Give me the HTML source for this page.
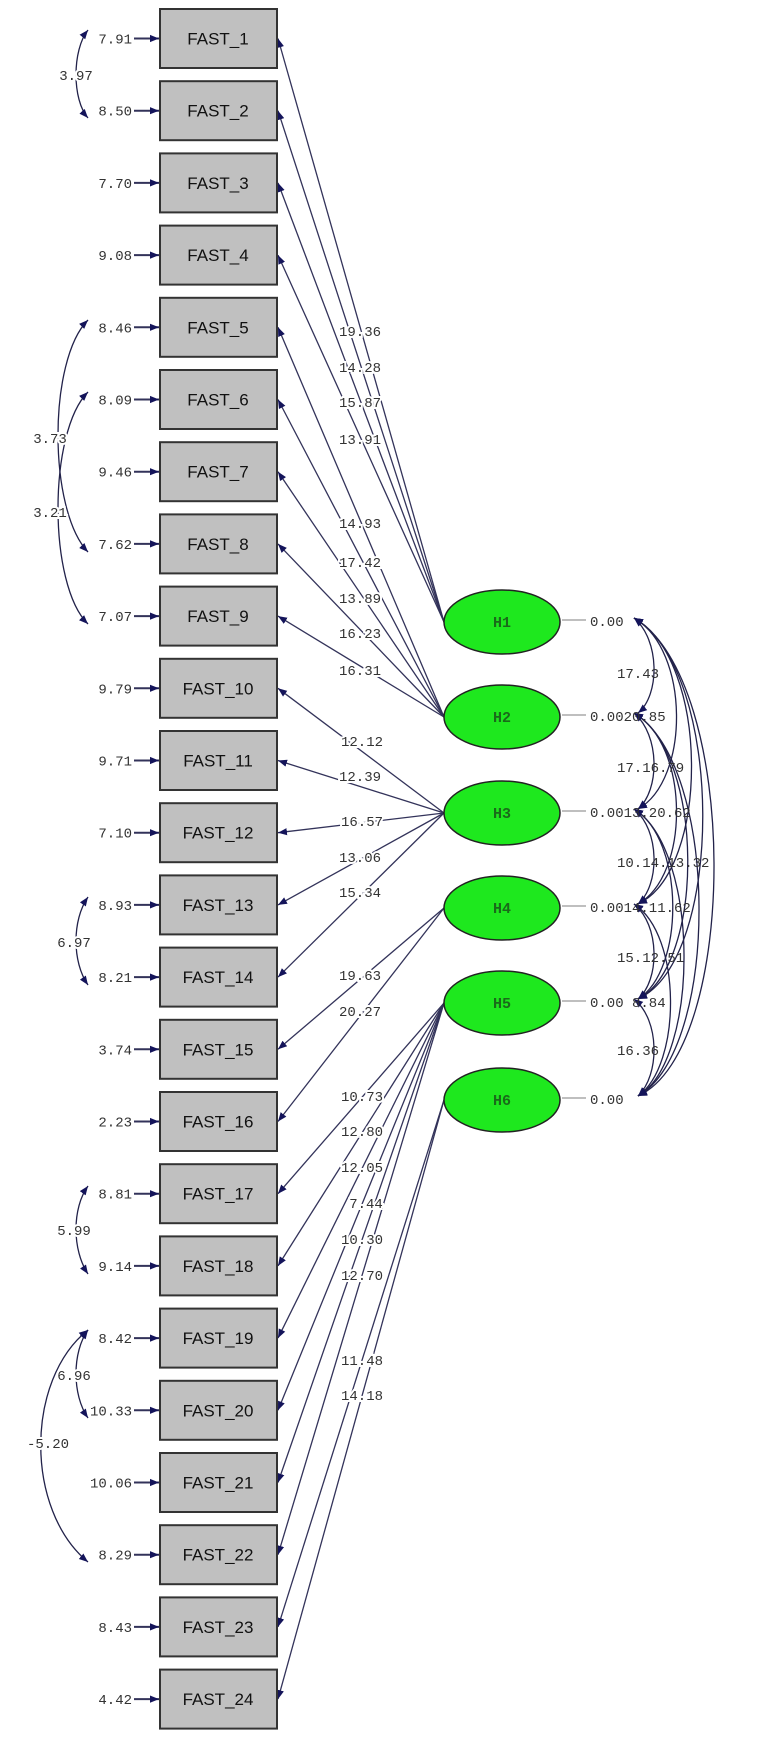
<!DOCTYPE html>
<html><head><meta charset="utf-8"><style>
html,body{margin:0;padding:0;background:#fff;}
svg{display:block}
.bx{fill:#c0c0c0;stroke:#333;stroke-width:2}
.bt{font-family:"Liberation Sans",sans-serif;font-size:17px;fill:#111;text-anchor:middle}
.m{font-family:"Liberation Mono",monospace;font-size:14px;fill:#333}
.lab{font-family:"Liberation Mono",monospace;font-size:14px;fill:#333;text-anchor:middle;paint-order:stroke;stroke:#fff;stroke-width:4px}
.ln{stroke:#33335a;stroke-width:1.3;fill:none}
.cv{stroke:#22224a;stroke-width:1.3;fill:none}
.el{fill:#1ee81e;stroke:#222;stroke-width:1.5}
.et{font-family:"Liberation Mono",monospace;font-size:15px;font-weight:bold;fill:#1a6a1a;text-anchor:middle}
</style></head><body>
<svg width="765" height="1762" viewBox="0 0 765 1762" xmlns="http://www.w3.org/2000/svg">
<defs>
<marker id="a" viewBox="0 0 10 10" refX="10" refY="5" markerWidth="9" markerHeight="9" orient="auto-start-reverse" markerUnits="userSpaceOnUse"><path d="M0,1 L10,5 L0,9 Z" fill="#14145a"/></marker>
</defs>

<!-- factor loading lines -->
<g class="ln" marker-end="url(#a)">
<line x1="444" y1="622" x2="278" y2="38.5"/>
<line x1="444" y1="622" x2="278" y2="110.7"/>
<line x1="444" y1="622" x2="278" y2="182.9"/>
<line x1="444" y1="622" x2="278" y2="255.1"/>
<line x1="444" y1="717" x2="278" y2="327.3"/>
<line x1="444" y1="717" x2="278" y2="399.5"/>
<line x1="444" y1="717" x2="278" y2="471.7"/>
<line x1="444" y1="717" x2="278" y2="543.9"/>
<line x1="444" y1="717" x2="278" y2="616.1"/>
<line x1="444" y1="813" x2="278" y2="688.3"/>
<line x1="444" y1="813" x2="278" y2="760.5"/>
<line x1="444" y1="813" x2="278" y2="832.7"/>
<line x1="444" y1="813" x2="278" y2="904.9"/>
<line x1="444" y1="813" x2="278" y2="977.1"/>
<line x1="444" y1="908" x2="278" y2="1049.3"/>
<line x1="444" y1="908" x2="278" y2="1121.5"/>
<line x1="444" y1="1003" x2="278" y2="1193.7"/>
<line x1="444" y1="1003" x2="278" y2="1265.9"/>
<line x1="444" y1="1003" x2="278" y2="1338.1"/>
<line x1="444" y1="1003" x2="278" y2="1410.3"/>
<line x1="444" y1="1003" x2="278" y2="1482.5"/>
<line x1="444" y1="1003" x2="278" y2="1554.7"/>
<line x1="444" y1="1100" x2="278" y2="1626.9"/>
<line x1="444" y1="1100" x2="278" y2="1699.1"/>
</g>

<!-- loading labels -->
<g>
<text class="lab" x="360" y="336">19.36</text>
<text class="lab" x="360" y="372">14.28</text>
<text class="lab" x="360" y="407">15.87</text>
<text class="lab" x="360" y="444">13.91</text>
<text class="lab" x="360" y="528">14.93</text>
<text class="lab" x="360" y="567">17.42</text>
<text class="lab" x="360" y="603">13.89</text>
<text class="lab" x="360" y="638">16.23</text>
<text class="lab" x="360" y="675">16.31</text>
<text class="lab" x="362" y="746">12.12</text>
<text class="lab" x="360" y="781">12.39</text>
<text class="lab" x="362" y="826">16.57</text>
<text class="lab" x="360" y="862">13.06</text>
<text class="lab" x="360" y="897">15.34</text>
<text class="lab" x="360" y="980">19.63</text>
<text class="lab" x="360" y="1016">20.27</text>
<text class="lab" x="362" y="1101">10.73</text>
<text class="lab" x="362" y="1136">12.80</text>
<text class="lab" x="362" y="1172">12.05</text>
<text class="lab" x="366" y="1208">7.44</text>
<text class="lab" x="362" y="1244">10.30</text>
<text class="lab" x="362" y="1280">12.70</text>
<text class="lab" x="362" y="1365">11.48</text>
<text class="lab" x="362" y="1400">14.18</text>
</g>

<!-- boxes -->
<g>
<rect class="bx" x="160" y="9" width="117" height="59"/><text class="bt" x="218" y="44.5">FAST_1</text>
<rect class="bx" x="160" y="81.2" width="117" height="59"/><text class="bt" x="218" y="116.7">FAST_2</text>
<rect class="bx" x="160" y="153.4" width="117" height="59"/><text class="bt" x="218" y="188.9">FAST_3</text>
<rect class="bx" x="160" y="225.6" width="117" height="59"/><text class="bt" x="218" y="261.1">FAST_4</text>
<rect class="bx" x="160" y="297.8" width="117" height="59"/><text class="bt" x="218" y="333.3">FAST_5</text>
<rect class="bx" x="160" y="370" width="117" height="59"/><text class="bt" x="218" y="405.5">FAST_6</text>
<rect class="bx" x="160" y="442.2" width="117" height="59"/><text class="bt" x="218" y="477.7">FAST_7</text>
<rect class="bx" x="160" y="514.4" width="117" height="59"/><text class="bt" x="218" y="549.9">FAST_8</text>
<rect class="bx" x="160" y="586.6" width="117" height="59"/><text class="bt" x="218" y="622.1">FAST_9</text>
<rect class="bx" x="160" y="658.8" width="117" height="59"/><text class="bt" x="218" y="694.3">FAST_10</text>
<rect class="bx" x="160" y="731" width="117" height="59"/><text class="bt" x="218" y="766.5">FAST_11</text>
<rect class="bx" x="160" y="803.2" width="117" height="59"/><text class="bt" x="218" y="838.7">FAST_12</text>
<rect class="bx" x="160" y="875.4" width="117" height="59"/><text class="bt" x="218" y="910.9">FAST_13</text>
<rect class="bx" x="160" y="947.6" width="117" height="59"/><text class="bt" x="218" y="983.1">FAST_14</text>
<rect class="bx" x="160" y="1019.8" width="117" height="59"/><text class="bt" x="218" y="1055.3">FAST_15</text>
<rect class="bx" x="160" y="1092" width="117" height="59"/><text class="bt" x="218" y="1127.5">FAST_16</text>
<rect class="bx" x="160" y="1164.2" width="117" height="59"/><text class="bt" x="218" y="1199.7">FAST_17</text>
<rect class="bx" x="160" y="1236.4" width="117" height="59"/><text class="bt" x="218" y="1271.9">FAST_18</text>
<rect class="bx" x="160" y="1308.6" width="117" height="59"/><text class="bt" x="218" y="1344.1">FAST_19</text>
<rect class="bx" x="160" y="1380.8" width="117" height="59"/><text class="bt" x="218" y="1416.3">FAST_20</text>
<rect class="bx" x="160" y="1453" width="117" height="59"/><text class="bt" x="218" y="1488.5">FAST_21</text>
<rect class="bx" x="160" y="1525.2" width="117" height="59"/><text class="bt" x="218" y="1560.7">FAST_22</text>
<rect class="bx" x="160" y="1597.4" width="117" height="59"/><text class="bt" x="218" y="1632.9">FAST_23</text>
<rect class="bx" x="160" y="1669.6" width="117" height="59"/><text class="bt" x="218" y="1705.1">FAST_24</text>
</g>

<!-- error arrows -->
<g class="ln" marker-end="url(#a)" style="stroke-width:2">
<line x1="134" y1="38.5" x2="159" y2="38.5"/><line x1="134" y1="110.7" x2="159" y2="110.7"/>
<line x1="134" y1="182.9" x2="159" y2="182.9"/><line x1="134" y1="255.1" x2="159" y2="255.1"/>
<line x1="134" y1="327.3" x2="159" y2="327.3"/><line x1="134" y1="399.5" x2="159" y2="399.5"/>
<line x1="134" y1="471.7" x2="159" y2="471.7"/><line x1="134" y1="543.9" x2="159" y2="543.9"/>
<line x1="134" y1="616.1" x2="159" y2="616.1"/><line x1="134" y1="688.3" x2="159" y2="688.3"/>
<line x1="134" y1="760.5" x2="159" y2="760.5"/><line x1="134" y1="832.7" x2="159" y2="832.7"/>
<line x1="134" y1="904.9" x2="159" y2="904.9"/><line x1="134" y1="977.1" x2="159" y2="977.1"/>
<line x1="134" y1="1049.3" x2="159" y2="1049.3"/><line x1="134" y1="1121.5" x2="159" y2="1121.5"/>
<line x1="134" y1="1193.7" x2="159" y2="1193.7"/><line x1="134" y1="1265.9" x2="159" y2="1265.9"/>
<line x1="134" y1="1338.1" x2="159" y2="1338.1"/><line x1="134" y1="1410.3" x2="159" y2="1410.3"/>
<line x1="134" y1="1482.5" x2="159" y2="1482.5"/><line x1="134" y1="1554.7" x2="159" y2="1554.7"/>
<line x1="134" y1="1626.9" x2="159" y2="1626.9"/><line x1="134" y1="1699.1" x2="159" y2="1699.1"/>
</g>
<g class="m" text-anchor="end">
<text x="132" y="43.5">7.91</text><text x="132" y="115.7">8.50</text>
<text x="132" y="187.9">7.70</text><text x="132" y="260.1">9.08</text>
<text x="132" y="332.3">8.46</text><text x="132" y="404.5">8.09</text>
<text x="132" y="476.7">9.46</text><text x="132" y="548.9">7.62</text>
<text x="132" y="621.1">7.07</text><text x="132" y="693.3">9.79</text>
<text x="132" y="765.5">9.71</text><text x="132" y="837.7">7.10</text>
<text x="132" y="909.9">8.93</text><text x="132" y="982.1">8.21</text>
<text x="132" y="1054.3">3.74</text><text x="132" y="1126.5">2.23</text>
<text x="132" y="1198.7">8.81</text><text x="132" y="1270.9">9.14</text>
<text x="132" y="1343.1">8.42</text><text x="132" y="1415.3">10.33</text>
<text x="132" y="1487.5">10.06</text><text x="132" y="1559.7">8.29</text>
<text x="132" y="1631.9">8.43</text><text x="132" y="1704.1">4.42</text>
</g>

<!-- left error covariances -->
<g class="cv" marker-start="url(#a)" marker-end="url(#a)">
<path d="M88 30 C72 50,72 100,88 118"/>
<path d="M88 320 C48 360,48 510,88 552"/>
<path d="M88 392 C48 432,48 585,88 624"/>
<path d="M88 897 C72 920,72 962,88 985"/>
<path d="M88 1186 C72 1208,72 1250,88 1274"/>
<path d="M88 1330 C72 1352,72 1395,88 1418"/>
<path d="M88 1330 C25 1380,25 1510,88 1562"/>
</g>
<g class="lab">
<text x="76" y="80">3.97</text>
<text x="50" y="443">3.73</text>
<text x="50" y="517">3.21</text>
<text x="74" y="947">6.97</text>
<text x="74" y="1235">5.99</text>
<text x="74" y="1380">6.96</text>
<text x="48" y="1448">-5.20</text>
</g>

<!-- latent ellipses -->
<g>
<ellipse class="el" cx="502" cy="622" rx="58" ry="32"/><text class="et" x="502" y="627">H1</text>
<ellipse class="el" cx="502" cy="717" rx="58" ry="32"/><text class="et" x="502" y="722">H2</text>
<ellipse class="el" cx="502" cy="813" rx="58" ry="32"/><text class="et" x="502" y="818">H3</text>
<ellipse class="el" cx="502" cy="908" rx="58" ry="32"/><text class="et" x="502" y="913">H4</text>
<ellipse class="el" cx="502" cy="1003" rx="58" ry="32"/><text class="et" x="502" y="1008">H5</text>
<ellipse class="el" cx="502" cy="1100" rx="58" ry="32"/><text class="et" x="502" y="1105">H6</text>
</g>
<g stroke="#aaa" stroke-width="1.5">
<line x1="562" y1="620" x2="586" y2="620"/><line x1="562" y1="715" x2="586" y2="715"/>
<line x1="562" y1="811" x2="586" y2="811"/><line x1="562" y1="906" x2="586" y2="906"/>
<line x1="562" y1="1001" x2="586" y2="1001"/><line x1="562" y1="1098" x2="586" y2="1098"/>
</g>

<!-- factor covariances -->
<g class="cv" marker-start="url(#a)" marker-end="url(#a)">
<path d="M634 618 C660 640,660 695,638 713"/>
<path d="M634 618 C690 650,690 780,638 809"/>
<path d="M634 618 C710 660,710 870,638 904"/>
<path d="M634 618 C725 670,725 960,638 999"/>
<path d="M634 618 C740 680,740 1050,638 1096"/>
<path d="M634 713 C660 735,660 790,638 809"/>
<path d="M634 713 C690 745,690 875,638 904"/>
<path d="M634 713 C705 755,705 965,638 999"/>
<path d="M634 713 C720 765,720 1050,638 1096"/>
<path d="M634 809 C660 830,660 885,638 904"/>
<path d="M634 809 C685 840,685 970,638 999"/>
<path d="M634 809 C700 850,700 1060,638 1096"/>
<path d="M634 904 C660 925,660 980,638 999"/>
<path d="M634 904 C682 935,682 1065,638 1096"/>
<path d="M634 999 C660 1020,660 1075,638 1096"/>
</g>
<g class="m">
<text x="590" y="626">0.00</text>
<text x="617" y="678">17.43</text>
<text x="590" y="721">0.0020.85</text>
<text x="617" y="772">17.16.79</text>
<text x="590" y="817">0.0013.20.62</text>
<text x="617" y="867">10.14.13.32</text>
<text x="590" y="912">0.0014.11.62</text>
<text x="617" y="962">15.12.51</text>
<text x="590" y="1007">0.00 8.84</text>
<text x="617" y="1055">16.36</text>
<text x="590" y="1104">0.00</text>
</g>
</svg>
</body></html>
